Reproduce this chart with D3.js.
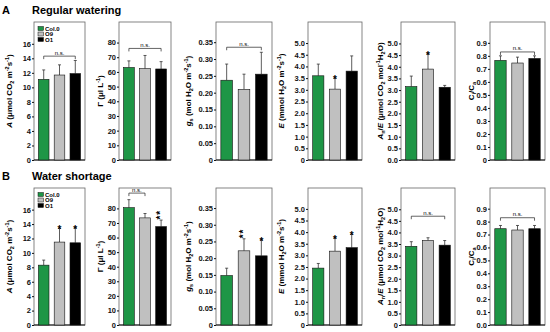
<!DOCTYPE html>
<html>
<head>
<meta charset="utf-8">
<script src="https://cdn.jsdelivr.net/npm/d3@7"></script>
<style>
  body { margin: 0; background: #fff; }
  svg { font-family: "Liberation Sans", Arial, sans-serif; }
</style>
</head>
<body>
<div id="vis"></div>
<script>
const FRAME_WIDTH = 550;
const FRAME_HEIGHT = 332;

// data
const groups = ["Col.0", "O9", "O1"];
const groupColors = ["#1e9646", "#c0c0c0", "#000000"];
const rowTitles = ["Regular watering", "Water shortage"];
const rowLetters = ["A", "B"];

// mean values, one array per panel (A, Gamma, gs, E, A/E, Ci/Ca)
const meansRegular = [[11.1, 11.7, 11.9], [63, 62.2, 62], [0.237, 0.21, 0.255],
                      [3.6, 3.03, 3.8], [3.15, 3.9, 3.12], [0.765, 0.745, 0.78]];
const errRegular = [[1.3, 1.4, 1.8], [4.5, 9, 5], [0.048, 0.045, 0.065],
                    [0.5, 0.47, 0.65], [0.45, 0.65, 0.08], [0.035, 0.045, 0.02]];
const sigRegular = [["", "", ""], ["", "", ""], ["", "", ""],
                    ["", "*", ""], ["", "*", ""], ["", "", ""]];
const nsRegular = [[0, 2, 14.3], [0, 2, 76], [0, 2, 0.335], null, null, [0, 2, 0.83]];

const meansShortage = [[8.3, 11.5, 11.4], [80.5, 73.5, 67.5], [0.148, 0.222, 0.207],
                       [2.45, 3.18, 3.33], [3.4, 3.65, 3.45], [0.745, 0.735, 0.745]];
const errShortage = [[0.7, 1.9, 2.1], [5.5, 3, 4.5], [0.022, 0.036, 0.048],
                     [0.2, 0.57, 0.57], [0.2, 0.12, 0.2], [0.025, 0.035, 0.025]];
const sigShortage = [["", "*", "*"], ["", "", "**"], ["", "**", "*"],
                     ["", "*", "*"], ["", "", ""], ["", "", ""]];
const nsShortage = [null, [0, 1, 90.5], null, null, [0, 2, 4.7], [0, 2, 0.83]];

// tick values and labels
const tickValues = [[0, 2, 4, 6, 8, 10, 12, 14, 16],
                    [0, 10, 20, 30, 40, 50, 60, 70, 80],
                    [0, 0.05, 0.1, 0.15, 0.2, 0.25, 0.3, 0.35],
                    [0, 0.5, 1, 1.5, 2, 2.5, 3, 3.5, 4, 4.5, 5],
                    [0, 0.5, 1, 1.5, 2, 2.5, 3, 3.5, 4, 4.5, 5],
                    [0, 0.1, 0.2, 0.3, 0.4, 0.5, 0.6, 0.7, 0.8, 0.9]];
const tickLabelsRegular = [["0", "2", "4", "6", "8", "10", "12", "14", "16"],
                           ["0", "10", "20", "30", "40", "50", "60", "70", "80"],
                           ["0", "0.05", "0.10", "0.15", "0.20", "0.25", "0.30", "0.35"],
                           ["0", "0.5", "1.0", "1.5", "2.0", "2.5", "3.0", "3.5", "4.0", "4.5", "5.0"],
                           ["0.0", "0.5", "1.0", "1.5", "2.0", "2.5", "3.0", "3.5", "4.0", "4.5", "5.0"],
                           ["0", "0.1", "0.2", "0.3", "0.4", "0.5", "0.6", "0.7", "0.8", "0.9"]];
const tickLabelsShortage = [["0", "2", "4", "6", "8", "10", "12", "14", "16"],
                            ["0", "10", "20", "30", "40", "50", "60", "70", "80"],
                            ["0", "0.05", "0.10", "0.15", "0.20", "0.25", "0.30", "0.35"],
                            ["0", "0.5", "1.0", "1.5", "2.0", "2.5", "3.0", "3.5", "4.0", "4.5", "5.0"],
                            ["0", "0.5", "1.0", "1.5", "2.0", "2.5", "3.0", "3.5", "4.0", "4.5", "5.0"],
                            ["0.0", "0.1", "0.2", "0.3", "0.4", "0.5", "0.6", "0.7", "0.8", "0.9"]];
const yMax = [19, 94, 0.41, 5.9, 5.92, 1.06];

// axis titles as pieces: [text, style] with style i=italic, sub, sup
const yTitles = [
  [["A", "i"], [" (μmol CO", ""], ["2", "sub"], [" m", ""], ["-2", "sup"], ["s", ""], ["-1", "sup"], [")", ""]],
  [["Γ (μl L", ""], ["-1", "sup"], [")", ""]],
  [["g", "i"], ["s", "sub"], [" (mol H", ""], ["2", "sub"], ["O m", ""], ["-2", "sup"], ["s", ""], ["-1", "sup"], [")", ""]],
  [["E", "i"], [" (mmol H", ""], ["2", "sub"], ["O m", ""], ["-2", "sup"], ["s", ""], ["-1", "sup"], [")", ""]],
  [["A", "i"], ["n", "sub"], ["/", ""], ["E", "i"], [" (μmol CO", ""], ["2", "sub"], [" mol", ""], ["-1", "sup"], ["H", ""], ["2", "sub"], ["O)", ""]],
  [["C", ""], ["i", "sub"], ["/C", ""], ["a", "sub"]]
];

// layout
const PANEL_LEFT = [34, 119, 216, 308, 401, 490];
const PANEL_WIDTH = [51, 52, 56, 54, 54, 55];
const TITLE_OFFSET = [25, 19, 28, 27, 21, 19];
const ROW_TOP = [22, 188];
const ROW_BOTTOM = [160, 325];

const svg = d3.select("#vis")
    .append("svg")
    .attr("width", FRAME_WIDTH)
    .attr("height", FRAME_HEIGHT);

function drawRow(r, means, errs, sigs, nss, tickLabels) {
    const top = ROW_TOP[r];
    const bottom = ROW_BOTTOM[r];

    // row header
    svg.append("text")
        .attr("x", 2).attr("y", top - 8)
        .attr("font-size", 11).attr("font-weight", "bold")
        .text(rowLetters[r]);
    svg.append("text")
        .attr("x", 32).attr("y", top - 8)
        .attr("font-size", 11).attr("font-weight", "bold")
        .text(rowTitles[r]);

    for (let p = 0; p < 6; p++) {
        const left = PANEL_LEFT[p];
        const right = left + PANEL_WIDTH[p];

        const X_SCALE = d3.scaleBand()
            .domain(groups)
            .range([left, right])
            .paddingInner(0.33)
            .paddingOuter(0.28);

        const Y_SCALE = d3.scaleLinear()
            .domain([0, yMax[p]])
            .range([bottom, top]);

        const g = svg.append("g");

        // frame
        g.append("rect")
            .attr("x", left).attr("y", top)
            .attr("width", right - left).attr("height", bottom - top)
            .attr("fill", "none")
            .attr("stroke", "#666")
            .attr("stroke-width", 0.8);

        // y axis
        const labels = tickLabels[p];
        const ax = g.append("g")
            .attr("transform", "translate(" + left + ",0)")
            .call(d3.axisLeft(Y_SCALE)
                .tickValues(tickValues[p])
                .tickSize(2)
                .tickPadding(1)
                .tickFormat((d, i) => labels[i]));
        ax.select(".domain").remove();
        ax.selectAll("text")
            .attr("font-size", 7.5)
            .attr("font-weight", "bold")
            .attr("font-family", "Liberation Sans, Arial, sans-serif")
            .attr("fill", "#111");
        ax.selectAll("line").attr("stroke", "#111");

        // bottom axis line
        g.append("line")
            .attr("x1", left).attr("x2", right)
            .attr("y1", bottom).attr("y2", bottom)
            .attr("stroke", "#111").attr("stroke-width", 1);

        // bars
        const rows = groups.map((k, i) => ({k: k, v: means[p][i], e: errs[p][i], s: sigs[p][i], c: groupColors[i]}));

        g.selectAll(".err")
            .data(rows)
            .enter()
            .append("path")
            .attr("d", (d) => {
                const cx = X_SCALE(d.k) + X_SCALE.bandwidth() / 2;
                const y1 = Y_SCALE(d.v), y2 = Y_SCALE(d.v + d.e);
                return "M" + cx + "," + y1 + "V" + y2 + "M" + (cx - 1.5) + "," + y2 + "H" + (cx + 1.5);
            })
            .attr("stroke", "#333")
            .attr("stroke-width", 0.8)
            .attr("fill", "none");

        g.selectAll(".bar")
            .data(rows)
            .enter()
            .append("rect")
            .attr("x", (d) => X_SCALE(d.k))
            .attr("y", (d) => Y_SCALE(d.v))
            .attr("width", X_SCALE.bandwidth())
            .attr("height", (d) => bottom - Y_SCALE(d.v))
            .attr("fill", (d) => d.c)
            .attr("stroke", "#111")
            .attr("stroke-width", 0.6);

        // asterisks; a pair is drawn as one rotated text so it stacks vertically
        rows.filter((d) => d.s.length > 0).forEach((d) => {
            const cx = X_SCALE(d.k) + X_SCALE.bandwidth() / 2;
            const yTop = Y_SCALE(d.v + d.e);
            if (d.s.length === 1) {
                g.append("text")
                    .attr("x", cx)
                    .attr("y", yTop + 5)
                    .attr("text-anchor", "middle")
                    .attr("font-size", 10)
                    .attr("font-weight", "bold")
                    .text(d.s);
            } else {
                g.append("text")
                    .attr("transform", "translate(" + (cx + 3.3) + "," + (yTop - 0.5) + ") rotate(-90)")
                    .attr("text-anchor", "start")
                    .attr("font-size", 10)
                    .attr("font-weight", "bold")
                    .attr("letter-spacing", 0.8)
                    .text(d.s);
            }
        });

        // n.s. bracket
        const ns = nss[p];
        if (ns) {
            const x1 = X_SCALE(groups[ns[0]]) + X_SCALE.bandwidth() / 2;
            const x2 = X_SCALE(groups[ns[1]]) + X_SCALE.bandwidth() / 2;
            const yb = Y_SCALE(ns[2]);
            g.append("path")
                .attr("d", "M" + x1 + "," + (yb + 3) + "V" + yb + "H" + x2 + "V" + (yb + 3))
                .attr("stroke", "#222").attr("stroke-width", 0.7).attr("fill", "none");
            g.append("text")
                .attr("x", (x1 + x2) / 2).attr("y", yb - 1.5)
                .attr("text-anchor", "middle")
                .attr("font-size", 6)
                .text("n.s.");
        }

        // y title
        const t = g.append("text")
            .attr("transform", "translate(" + (left - TITLE_OFFSET[p] + 3) + "," + ((top + bottom) / 2) + ") rotate(-90)")
            .attr("text-anchor", "middle")
            .attr("font-size", 8)
            .attr("font-weight", "bold");
        yTitles[p].forEach((piece) => {
            const sp = t.append("tspan").text(piece[0]);
            if (piece[1] === "i") sp.attr("font-style", "italic");
            if (piece[1] === "sub") sp.attr("font-size", 5.5).attr("baseline-shift", "-25%");
            if (piece[1] === "sup") sp.attr("font-size", 5.5).attr("baseline-shift", "45%");
        });

        // legend in first panel
        if (p === 0) {
            groups.forEach((k, i) => {
                g.append("rect")
                    .attr("x", left + 4).attr("y", top + 4.5 + i * 5.5)
                    .attr("width", 5.5).attr("height", 4)
                    .attr("fill", groupColors[i])
                    .attr("stroke", "#111").attr("stroke-width", 0.5);
                g.append("text")
                    .attr("x", left + 11).attr("y", top + 8.5 + i * 5.5)
                    .attr("font-size", 6)
                    .attr("font-weight", "bold")
                    .text(k);
            });
        }
    }
}

drawRow(0, meansRegular, errRegular, sigRegular, nsRegular, tickLabelsRegular);
drawRow(1, meansShortage, errShortage, sigShortage, nsShortage, tickLabelsShortage);
</script>
</body>
</html>
